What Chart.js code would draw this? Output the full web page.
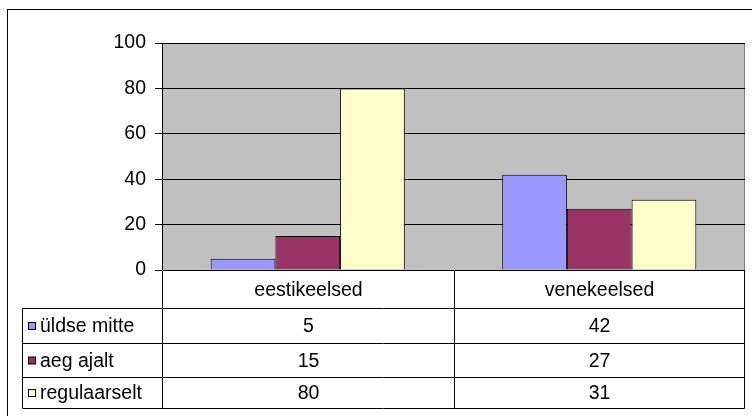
<!DOCTYPE html>
<html>
<head>
<meta charset="utf-8">
<script src="https://cdn.jsdelivr.net/npm/chart.js@4/dist/chart.umd.min.js"></script>
<style>
  html, body { margin: 0; padding: 0; background: #fff; }
  #wrap { width: 752px; height: 416px; position: relative; }
</style>
</head>
<body>
<div id="wrap"><canvas id="chart" width="752" height="416"></canvas></div>
<script>
// Chart data
const categories = ['eestikeelsed', 'venekeelsed'];
const seriesNames = ['üldse mitte', 'aeg ajalt', 'regulaarselt'];
const uldseMitte = [5, 42];
const aegAjalt = [15, 27];
const regulaarselt = [80, 31];
const yTicks = [0, 20, 40, 60, 80, 100];

const colors = ['#9999FF', '#993366', '#FFFFCC'];
const FONT = '"Liberation Sans", Arial, sans-serif';
const FONT_SIZE = 19.5;

// row boundaries of the data table (below the x axis)
const tableRows = [308.5, 343.5, 377.5, 408.5];
const legendLeft = 22.5;

const plotBackground = {
    id: 'plotBackground',
    beforeDraw(chart) {
        const { ctx, chartArea: a } = chart;
        ctx.save();
        // outer frame
        ctx.strokeStyle = '#000';
        ctx.lineWidth = 1;
        ctx.strokeRect(7.5, 9.5, 800, 500);
        // gray plot area
        ctx.fillStyle = '#C0C0C0';
        ctx.fillRect(a.left, a.top, a.right - a.left, a.bottom - a.top);
        ctx.strokeStyle = '#808080';
        ctx.strokeRect(a.left + 0.5, a.top + 0.5, a.right - a.left - 1, a.bottom - a.top);
        ctx.restore();
    }
};

const dataTable = {
    id: 'dataTable',
    afterDraw(chart) {
        const { ctx, chartArea: a } = chart;
        const xs = chart.scales.x;
        const left = Math.round(a.left) + 0.5;
        const right = Math.round(a.right) - 0.5;
        const mid = Math.round((xs.getPixelForValue(0) + xs.getPixelForValue(1)) / 2) + 0.5;
        const bounds = [left, mid, right];
        const axisY = Math.round(a.bottom) + 0.5;
        const bottom = tableRows[tableRows.length - 1];

        ctx.save();
        ctx.strokeStyle = '#000';
        ctx.lineWidth = 1;
        ctx.beginPath();
        // horizontals
        ctx.moveTo(left, axisY); ctx.lineTo(right, axisY);
        tableRows.forEach(y => { ctx.moveTo(legendLeft, y); ctx.lineTo(right, y); });
        // verticals
        bounds.forEach(x => { ctx.moveTo(x, axisY); ctx.lineTo(x, bottom); });
        ctx.moveTo(legendLeft, tableRows[0]); ctx.lineTo(legendLeft, bottom);
        ctx.stroke();

        ctx.fillStyle = '#000';
        ctx.font = FONT_SIZE + 'px ' + FONT;
        ctx.textBaseline = 'middle';
        ctx.textAlign = 'center';
        // category header
        categories.forEach((c, i) => {
            ctx.fillText(c, (bounds[i] + bounds[i + 1]) / 2, (axisY + tableRows[0]) / 2 + 1);
        });
        // value rows
        chart.data.datasets.forEach((ds, r) => {
            const yc = (tableRows[r] + tableRows[r + 1]) / 2 + 1;
            ds.data.forEach((v, i) => {
                ctx.textAlign = 'center';
                ctx.fillText(String(v), (bounds[i] + bounds[i + 1]) / 2, yc);
            });
            // legend key
            ctx.fillStyle = ds.backgroundColor;
            ctx.fillRect(28.5, yc - 4.5, 7, 7);
            ctx.strokeRect(28.5, yc - 4.5, 7, 7);
            ctx.fillStyle = '#000';
            ctx.textAlign = 'left';
            ctx.fillText(ds.label, 40, yc);
        });
        ctx.restore();
    }
};

new Chart(document.getElementById('chart'), {
    type: 'bar',
    data: {
        labels: categories,
        datasets: [
            { label: seriesNames[0], data: uldseMitte, backgroundColor: colors[0] },
            { label: seriesNames[1], data: aegAjalt, backgroundColor: colors[1] },
            { label: seriesNames[2], data: regulaarselt, backgroundColor: colors[2] }
        ].map(d => Object.assign(d, {
            borderColor: '#000',
            borderWidth: 1,
            borderSkipped: 'bottom',
            barPercentage: 1,
            categoryPercentage: 0.666
        }))
    },
    options: {
        responsive: false,
        animation: false,
        events: [],
        layout: { padding: { top: 43, left: 8, right: 7, bottom: 6 } },
        plugins: {
            legend: { display: false },
            tooltip: { enabled: false },
            title: { display: false }
        },
        scales: {
            x: {
                grid: { display: false },
                border: { display: false },
                ticks: { display: false },
                afterFit(scale) { scale.height = 140; }
            },
            y: {
                min: 0,
                max: 100,
                afterBuildTicks(scale) { scale.ticks = yTicks.map(v => ({ value: v })); },
                afterFit(scale) { scale.width = 154; },
                grid: { color: '#000', lineWidth: 1, tickLength: 7, tickColor: '#000' },
                border: { color: '#000', width: 1 },
                ticks: {
                    color: '#000',
                    padding: 9,
                    font: { family: FONT, size: FONT_SIZE }
                }
            }
        }
    },
    plugins: [plotBackground, dataTable]
});
</script>
</body>
</html>
